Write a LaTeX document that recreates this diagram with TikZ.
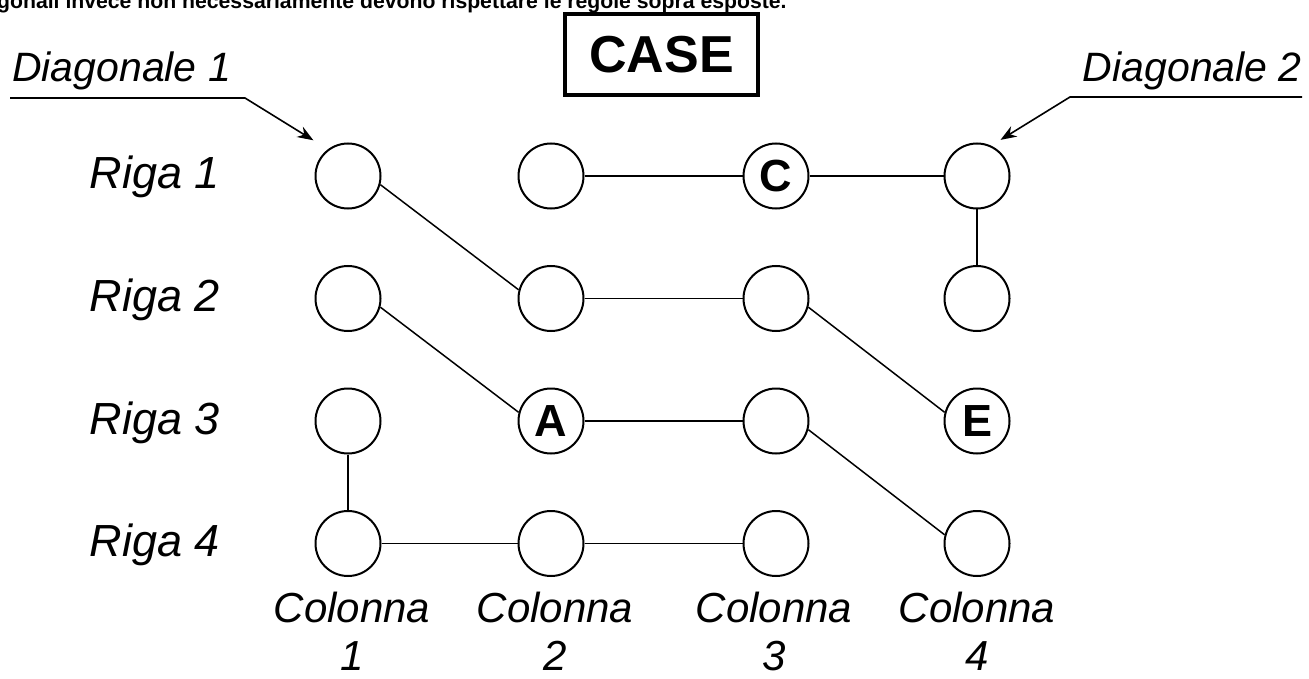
\documentclass[tikz,border=0pt]{standalone}
\usepackage{fontspec}
\setmainfont{Liberation Sans}
\usetikzlibrary{arrows.meta, positioning}

\begin{document}
\begin{tikzpicture}[x=1pt, y=-1pt,
  ele/.style={draw, circle, line width=2pt, minimum size=65pt, inner sep=0pt, font=\fontsize{45}{45}\selectfont\bfseries},
  lab/.style={font=\fontsize{45}{50}\selectfont\itshape, inner sep=0pt},
  col/.style={font=\fontsize{42}{48}\selectfont\itshape, inner sep=0pt, align=center, anchor=base},
  diag/.style={font=\fontsize{41}{46}\selectfont\itshape, inner sep=0pt},
  link/.style={line width=1.5pt},
  pointer/.style={line width=1.6pt, -{Stealth[length=16pt, width=12pt]}}]
  \useasboundingbox (0,0) rectangle (1309,679);
  \clip (0,0) rectangle (1309,679);

  % line cut off at the top
  \node[anchor=base west, inner sep=0pt, font=\fontsize{21.2}{24}\selectfont\bfseries] (intro) at (-3,9) {gonali invece non necessariamente devono rispettare le regole sopra esposte.};

  \node[draw, line width=4pt, minimum width=193pt, minimum height=81pt, font=\fontsize{52}{52}\selectfont\bfseries] (case) at (661.5,54.5) {CASE};

  % column 1
  \node[ele] (a1) at (348,176) {};
  \node[ele] (a2) at (348,298.5) {};
  \node[ele] (a3) at (348,421) {};
  \node[ele] (a4) at (348,543.5) {};
  % column 2
  \node[ele] (b1) at (551,176) {};
  \node[ele] (b2) at (551,298.5) {};
  \node[ele] (b3) at (551,421) {A};
  \node[ele] (b4) at (551,543.5) {};
  % column 3
  \node[ele] (c1) at (776,176) {C};
  \node[ele] (c2) at (776,298.5) {};
  \node[ele] (c3) at (776,421) {};
  \node[ele] (c4) at (776,543.5) {};
  % column 4
  \node[ele] (d1) at (977,176) {};
  \node[ele] (d2) at (977,298.5) {};
  \node[ele] (d3) at (977,421) {E};
  \node[ele] (d4) at (977,543.5) {};

  \node[lab, anchor=base] (riga1) at (155,189) {Riga 1};
  \node[lab, anchor=base] (riga2) at (155,311.5) {Riga 2};
  \node[lab, anchor=base] (riga3) at (155,434) {Riga 3};
  \node[lab, anchor=base] (riga4) at (155,556.5) {Riga 4};

  \node[col] (col1) at (352,670) {Colonna\\1};
  \node[col] (col2) at (555,670) {Colonna\\2};
  \node[col] (col3) at (774,670) {Colonna\\3};
  \node[col] (col4) at (977,670) {Colonna\\4};

  \node[diag, anchor=base west] (diag1) at (12,82) {Diagonale 1};
  \node[diag, anchor=base east] (diag2) at (1302,82) {Diagonale 2};
  \coordinate (d1a) at (10,98);
  \coordinate (d1b) at (245,98);
  \coordinate (d2a) at (1302,97);
  \coordinate (d2b) at (1070,97);
  \draw[pointer, shorten >=17pt] (d1a) -- (d1b) -- (a1.127);
  \draw[pointer, shorten >=11pt] (d2a) -- (d2b) -- (d1.65);

  \draw[link] (a1.-15) -- (b2.165);
  \draw[link] (b1) -- (c1);
  \draw[link] (c1) -- (d1);
  \draw[link] (d1) -- (d2);
  \draw[link] (a2.-15) -- (b3.165);
  \draw[link] (b2) -- (c2);
  \draw[link] (c2.-15) -- (d3.165);
  \draw[link] (b3) -- (c3);
  \draw[link] (c3.-15) -- (d4.165);
  \draw[link] (a3) -- (a4);
  \draw[link] (a4) -- (b4);
  \draw[link] (b4) -- (c4);
 \end{tikzpicture}
\end{document}
